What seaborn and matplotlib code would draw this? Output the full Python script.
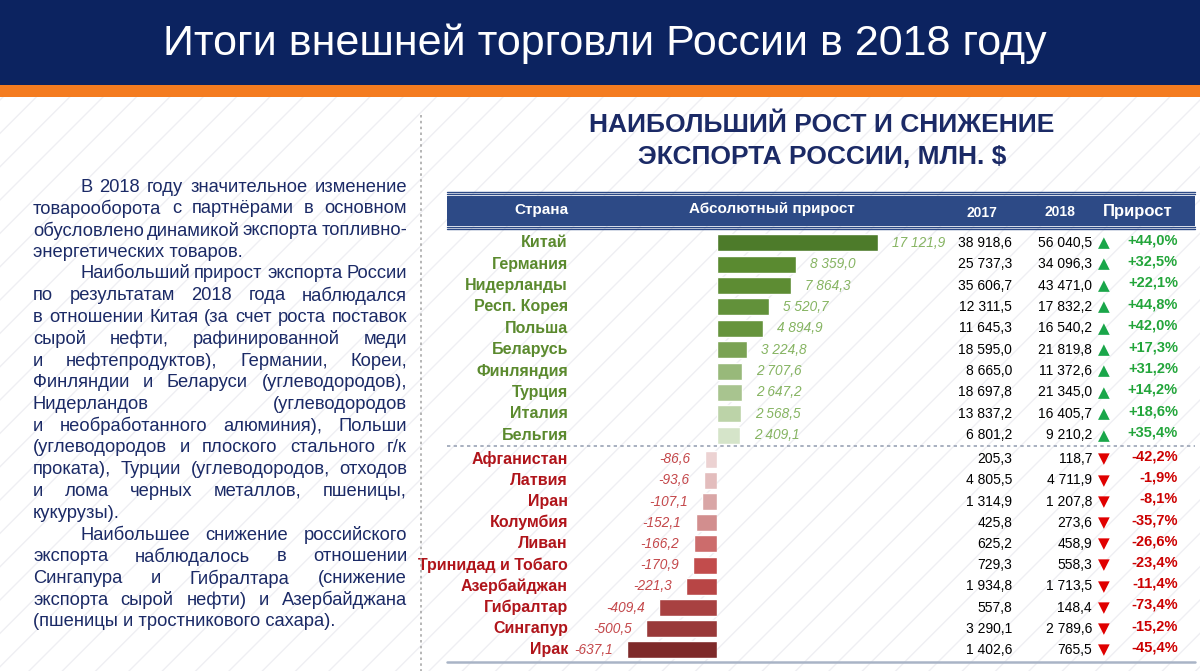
import matplotlib
matplotlib.use("Agg")
import matplotlib.pyplot as plt
import seaborn as sns
import pandas as pd
from matplotlib import font_manager
from matplotlib.patches import Rectangle
from matplotlib.lines import Line2D
from matplotlib.transforms import blended_transform_factory

# --- data -------------------------------------------------------------
countries_up = ["Китай", "Германия", "Нидерланды", "Респ. Корея", "Польша",
                "Беларусь", "Финляндия", "Турция", "Италия", "Бельгия"]
gain_up = [17121.9, 8359.0, 7864.3, 5520.7, 4894.9, 3224.8, 2707.6, 2647.2, 2568.5, 2409.1]
exp2017_up = [38918.6, 25737.3, 35606.7, 12311.5, 11645.3, 18595.0, 8665.0, 18697.8, 13837.2, 6801.2]
exp2018_up = [56040.5, 34096.3, 43471.0, 17832.2, 16540.2, 21819.8, 11372.6, 21345.0, 16405.7, 9210.2]
pct_up = [44.0, 32.5, 22.1, 44.8, 42.0, 17.3, 31.2, 14.2, 18.6, 35.4]

countries_down = ["Афганистан", "Латвия", "Иран", "Колумбия", "Ливан",
                  "Тринидад и Тобаго", "Азербайджан", "Гибралтар", "Сингапур", "Ирак"]
gain_down = [-86.6, -93.6, -107.1, -152.1, -166.2, -170.9, -221.3, -409.4, -500.5, -637.1]
exp2017_down = [205.3, 4805.5, 1314.9, 425.8, 625.2, 729.3, 1934.8, 557.8, 3290.1, 1402.6]
exp2018_down = [118.7, 4711.9, 1207.8, 273.6, 458.9, 558.3, 1713.5, 148.4, 2789.6, 765.5]
pct_down = [-42.2, -1.9, -8.1, -35.7, -26.6, -23.4, -11.4, -73.4, -15.2, -45.4]

greens = ["#4d7b2a", "#5a8a30", "#5d8c33", "#62913a", "#66943c",
          "#7aa253", "#98b97a", "#a8c48f", "#bcd3a8", "#d5e4c9"]
reds = ["#ecd2d2", "#e3bdbd", "#d9a6a6", "#d28e8e", "#cc6c6c",
        "#c24c4c", "#b84545", "#a84141", "#993939", "#7e2a2a"]

title = "Итоги внешней торговли России в 2018 году"
subtitle = ["НАИБОЛЬШИЙ РОСТ И СНИЖЕНИЕ", "ЭКСПОРТА РОССИИ, МЛН. $"]
headers = ["Страна", "Абсолютный прирост", "2017", "2018", "Прирост"]

text_lines = [
    ("В 2018 году значительное изменение", True, True),
    ("товарооборота с партнёрами в основном", False, True),
    ("обусловлено динамикой экспорта топливно-", False, True),
    ("энергетических товаров.", False, False),
    ("Наибольший прирост экспорта России", True, True),
    ("по результатам 2018 года наблюдался", False, True),
    ("в отношении Китая (за счет роста поставок", False, True),
    ("сырой нефти, рафинированной меди", False, True),
    ("и нефтепродуктов), Германии, Кореи,", False, True),
    ("Финляндии и Беларуси (углеводородов),", False, True),
    ("Нидерландов (углеводородов", False, True),
    ("и необработанного алюминия), Польши", False, True),
    ("(углеводородов и плоского стального г/к", False, True),
    ("проката), Турции (углеводородов, отходов", False, True),
    ("и лома черных металлов, пшеницы,", False, True),
    ("кукурузы).", False, False),
    ("Наибольшее снижение российского", True, True),
    ("экспорта наблюдалось в отношении", False, True),
    ("Сингапура и Гибралтара (снижение", False, True),
    ("экспорта сырой нефти) и Азербайджана", False, True),
    ("(пшеницы и тростникового сахара).", False, False),
]

# --- setup ------------------------------------------------------------
sns.set_style("white")
plt.rcParams["font.family"] = ["Liberation Sans", "DejaVu Sans"]
plt.rcParams["hatch.color"] = "#efeff3"
plt.rcParams["hatch.linewidth"] = 1.0

names = {f.name for f in font_manager.fontManager.ttflist}
NARROW = "Liberation Sans Narrow" if "Liberation Sans Narrow" in names else "Liberation Sans"

W, H = 1200, 671
NAVY = "#0c2360"
TXT = "#1b2a66"
BAR = "#2d4a86"


def fx(px):
    return px / W


def fy(py):
    return 1 - py / H


def fmt(v):
    return f"{v:,.1f}".replace(",", " ").replace(".", ",")


fig = plt.figure(figsize=(12, 6.71), dpi=100)

# background with faint diagonal texture
bg = fig.add_axes([0, 0, 1, 1], zorder=-5)
bg.axis("off")
bg.add_patch(Rectangle((0, 0), 1, 1, facecolor="white", edgecolor="#efeff3",
                       hatch="/", linewidth=0))

# header band
fig.patches.append(Rectangle((0, fy(85)), 1, 85 / H, transform=fig.transFigure,
                             facecolor=NAVY, edgecolor="none", zorder=1))
fig.patches.append(Rectangle((0, fy(97)), 1, 12 / H, transform=fig.transFigure,
                             facecolor="#f47c20", edgecolor="none", zorder=1))
fig.text(fx(605), fy(44), title, ha="center", va="center", color="white",
         fontsize=31, family=[NARROW, "DejaVu Sans"], zorder=2)

# subtitle
fig.text(fx(822), fy(125), subtitle[0], ha="center", va="center", color=TXT,
         fontsize=19, fontweight="bold")
fig.text(fx(822), fy(157), subtitle[1], ha="center", va="center", color=TXT,
         fontsize=19, fontweight="bold")

# vertical dotted separator
fig.add_artist(Line2D([fx(421), fx(421)], [fy(115), 0], color="#a9a9a9",
                      lw=1.2, ls=(0, (1.5, 2))))

# left text, justified
renderer = fig.canvas.get_renderer()
style = dict(color=TXT, fontsize=13.2, va="center", ha="left")
L, R = 33, 407
for k, (line, indent, justify) in enumerate(text_lines):
    y = 187 + k * 21.75
    left = 80 if indent else L
    if not justify:
        fig.text(fx(left), fy(y), line, **style)
        continue
    words = line.split()
    arts = [fig.text(0, fy(y), w, **style) for w in words]
    widths = [a.get_window_extent(renderer).width for a in arts]
    gap = max((R - left - sum(widths)) / (len(words) - 1), 2.0)
    x = left
    for a, w in zip(arts, widths):
        a.set_x(fx(x))
        x += w + gap

# table header
for yy in (191.5, 194.0, 227.0, 229.5):
    fig.add_artist(Line2D([fx(447), fx(1195)], [fy(yy), fy(yy)], color=BAR, lw=1.0))
fig.patches.append(Rectangle((fx(447), fy(225.5)), fx(1195) - fx(447), 29.5 / H,
                             transform=fig.transFigure, facecolor=BAR,
                             edgecolor="none"))
hx = [541, 772, 982, 1060, 1138]
hy = [210, 209, 213, 212, 212]
hs = [11, 11, 10, 10, 12]
for t, x, y, s in zip(headers, hx, hy, hs):
    fig.text(fx(x), fy(y), t, ha="center", va="center", color="white",
             fontsize=s, fontweight="bold", family=[NARROW, "DejaVu Sans"])

# separators
fig.add_artist(Line2D([fx(447), fx(1195)], [fy(446), fy(446)], color="#9aa3b5",
                      lw=1.2, ls=(0, (2, 2))))
fig.add_artist(Line2D([fx(447), fx(1195)], [fy(662), fy(662)], color="#a9b4c6", lw=1.8))

ZERO = 717


def draw_group(countries, gain, e17, e18, pct, colors, top, bottom, left, right,
               bar_px, name_col, val_col, up):
    ax = fig.add_axes([fx(left), fy(bottom), fx(right) - fx(left), (bottom - top) / H])
    df = pd.DataFrame({"country": countries, "gain": gain})
    sns.barplot(data=df, x="gain", y="country", hue="country", palette=colors,
                dodge=False, legend=False, saturation=1, width=0.8, orient="h", ax=ax)
    span = (right - left) * max(abs(g) for g in gain) / bar_px
    if up:
        ax.set_xlim(0, span)
    else:
        ax.set_xlim(-span, 0)
    ax.set_ylim(len(countries) - 0.5, -0.5)
    ax.axis("off")
    tr = blended_transform_factory(fig.transFigure, ax.transData)
    for i, c in enumerate(countries):
        ax.text(fx(568), i, c, transform=tr, ha="right", va="center", color=name_col,
                fontsize=11.5, fontweight="bold", family=[NARROW, "DejaVu Sans"],
                clip_on=False)
        ax.annotate(fmt(gain[i]), xy=(gain[i], i), xytext=(14 if up else -14, 0),
                    textcoords="offset pixels", ha="left" if up else "right",
                    va="center", color=val_col, fontsize=9.8, style="italic",
                    family=[NARROW, "DejaVu Sans"], annotation_clip=False)
        ax.text(fx(1012), i, fmt(e17[i]), transform=tr, ha="right", va="center",
                color="black", fontsize=10, family=[NARROW, "DejaVu Sans"])
        ax.text(fx(1092), i, fmt(e18[i]), transform=tr, ha="right", va="center",
                color="black", fontsize=10, family=[NARROW, "DejaVu Sans"])
        ax.text(fx(1104), i, "▲" if up else "▼", transform=tr, ha="center",
                va="center", color="#1aa64a" if up else "#e00000", fontsize=11,
                family="DejaVu Sans")
        p = f"{pct[i]:+.1f}%".replace(".", ",")
        ax.text(fx(1178), i - 0.12, p, transform=tr, ha="right", va="center",
                color="#22a53a" if up else "#cc0000", fontsize=10.5, fontweight="bold",
                family=[NARROW, "DejaVu Sans"])
    return ax


draw_group(countries_up, gain_up, exp2017_up, exp2018_up, pct_up, greens,
           232, 446, ZERO, 1195, 161, "#5b8a2e", "#86b462", True)
draw_group(countries_down, gain_down, exp2017_down, exp2018_down, pct_down, reds,
           448.5, 660.5, 447, ZERO, 90, "#b0141a", "#c4474a", False)

fig.savefig("out.png", dpi=100)
